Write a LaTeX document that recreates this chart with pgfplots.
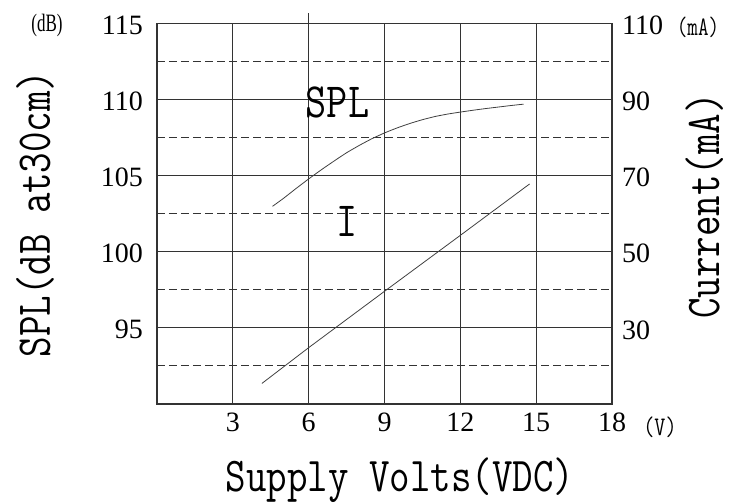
\documentclass[border=0pt]{standalone}
\usepackage{pgfplots}
\pgfplotsset{compat=1.18}
\usepackage{graphicx}
\usepackage{fontspec}
\setmainfont{Liberation Serif}
\begin{document}
\begin{tikzpicture}
\path[use as bounding box] (-157pt,-99pt) rectangle (573pt,404pt);
\begin{axis}[
  at={(0pt,0pt)}, anchor=south west,
  scale only axis, width=455pt, height=380.7pt,
  xmin=0, xmax=18, ymin=90, ymax=115,
  xtick={3,6,9,12,15,18}, ytick={95,100,105,110,115},
  minor ytick={92.5,97.5,102.5,107.5,112.5},
  grid=both,
  major grid style={black!80, line width=0.9pt},
  minor grid style={black!80, line width=0.9pt, dash pattern=on 8pt off 4pt},
  major tick length=0pt, minor tick length=0pt,
  axis line style={black!80, line width=1.1pt},
  tick label style={font=\fontsize{28}{32}\selectfont},
  /pgf/number format/assume math mode=true,
  yticklabel style={anchor=east, inner sep=0pt, xshift=-14pt, yshift=-2pt},
  xticklabel style={anchor=north, inner sep=0pt, yshift=-9pt},
  clip=false,
]
\addplot[black!75, line width=0.8pt, smooth, tension=0.3] coordinates {
  (4.57,102.98) (5.0,103.5) (5.5,104.15) (6.0,104.78) (6.5,105.38)
  (7.0,105.95) (7.5,106.5) (8.0,106.98) (8.5,107.42) (9.0,107.8)
  (9.5,108.13) (10.0,108.42) (10.5,108.67) (11.0,108.88) (11.5,109.04)
  (12.0,109.17) (12.5,109.29) (13.0,109.4) (13.5,109.5) (14.0,109.6)
  (14.5,109.69)
};
\draw[black!80, line width=0.9pt] (axis cs:6,115) -- (axis cs:6,115.66);
\end{axis}
\begin{axis}[
  at={(0pt,0pt)}, anchor=south west,
  scale only axis, width=455pt, height=380.7pt,
  xmin=0, xmax=18, ymin=10, ymax=110,
  axis y line*=right, axis x line=none,
  ytick={30,50,70,90,110},
  major tick length=0pt,
  axis line style={draw=none},
  tick label style={font=\fontsize{28}{32}\selectfont},
  /pgf/number format/assume math mode=true,
  yticklabel style={anchor=west, inner sep=0pt, xshift=10pt, yshift=-2pt},
]
\addplot[black!75, line width=0.8pt] coordinates {
  (4.15,15.4) (6,24.8) (9,39.6) (12,54.3) (14.74,67.8)
};
\end{axis}
% unit labels
\node[inner sep=0pt] at (-110pt,379pt) {\scalebox{0.85}[1.25]{\fontsize{20}{24}\selectfont (dB)}};
\node[inner sep=0pt] at (541pt,377pt) {\scalebox{1}[1.3]{\ttfamily\fontsize{20.5}{22}\selectfont (mA)}};
\node[inner sep=0pt] at (503pt,-23pt) {\scalebox{1}[1.25]{\ttfamily\fontsize{21.5}{23}\selectfont (V)}};
% axis titles
\node[anchor=base, inner sep=0pt] at (243pt,-87pt) {\scalebox{1}[1.22]{\ttfamily\fontsize{39.8}{42}\selectfont Supply Volts(VDC)}};
\node[anchor=base, inner sep=0pt, rotate=90] at (-107pt,190pt) {\scalebox{1}[1.22]{\ttfamily\fontsize{39.8}{42}\selectfont SPL(dB at30cm)}};
\node[anchor=base, inner sep=0pt, rotate=90] at (562pt,198pt) {\scalebox{1}[1.22]{\ttfamily\fontsize{39.8}{42}\selectfont Current(mA)}};
% curve labels
\node[anchor=base, inner sep=0pt] at (180.5pt,286pt) {\scalebox{1}[1.2]{\ttfamily\fontsize{41}{44}\selectfont SPL}};
\node[anchor=base, inner sep=0pt] at (190.5pt,167pt) {\scalebox{1}[1.2]{\ttfamily\fontsize{41}{44}\selectfont I}};
\end{tikzpicture}
\end{document}
